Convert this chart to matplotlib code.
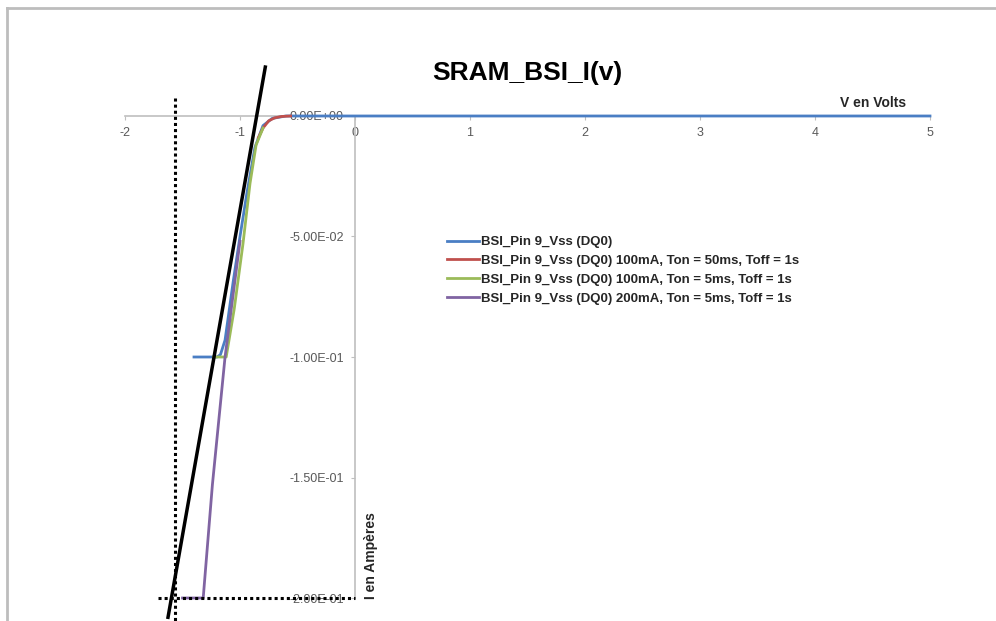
import numpy as np
import matplotlib
matplotlib.use("Agg")
import matplotlib.pyplot as plt
from matplotlib.lines import Line2D
from matplotlib.ticker import FormatStrFormatter

plt.rcParams['font.family'] = ['Liberation Sans', 'DejaVu Sans']
plt.rcParams['axes.unicode_minus'] = False

# --- data (V in volts, I in amperes) ---
blue_v = [5.0, 0.0, -0.6, -0.72, -0.8, -0.87, -0.94, -1.0, -1.06, -1.13, -1.17, -1.20, -1.40]
blue_i = [0.0, 0.0, 0.0, -0.001, -0.004, -0.013, -0.032, -0.050, -0.069, -0.093, -0.099, -0.100, -0.100]

red_v = [-0.56, -0.64, -0.70, -0.75, -0.80, -0.84]
red_i = [0.0, -0.0002, -0.0008, -0.002, -0.005, -0.009]

green_v = [-0.80, -0.86, -0.913, -0.974, -1.05, -1.12, -1.23]
green_i = [-0.005, -0.012, -0.028, -0.053, -0.080, -0.100, -0.100]

purple_v = [-1.0, -1.13, -1.24, -1.32, -1.50]
purple_i = [-0.052, -0.100, -0.153, -0.200, -0.200]

trend_v = [-0.78, -1.626]
trend_i = [0.0203, -0.208]

vdot_v = [-1.565, -1.565]
vdot_i = [0.0075, -0.215]
hdot_v = [-1.71, 0.0]
hdot_i = [-0.200, -0.200]

labels = ["BSI_Pin 9_Vss (DQ0)",
          "BSI_Pin 9_Vss (DQ0) 100mA, Ton = 50ms, Toff = 1s",
          "BSI_Pin 9_Vss (DQ0) 100mA, Ton = 5ms, Toff = 1s",
          "BSI_Pin 9_Vss (DQ0) 200mA, Ton = 5ms, Toff = 1s"]
colors = ["#4A7EC4", "#C0504D", "#9BBB59", "#8064A2"]

xticks = [-2, -1, 0, 1, 2, 3, 4, 5]
yticks = [-0.20, -0.15, -0.10, -0.05, 0.0]

fig = plt.figure(figsize=(9.96, 6.21), dpi=100)
ax = fig.add_axes([0, 0, 1, 1])
ax.set_xlim(-3.087, 5.574)
ax.set_ylim(-0.20954, 0.04813)
ax.patch.set_alpha(0)

# axes crossing at the origin, Excel style
for s in ['top', 'right']:
    ax.spines[s].set_visible(False)
ax.spines['left'].set_position(('data', 0))
ax.spines['bottom'].set_position(('data', 0))
ax.spines['left'].set_bounds(-0.2, 0)
ax.spines['bottom'].set_bounds(-2, 5)
for s in ['left', 'bottom']:
    ax.spines[s].set_color('#BFBFBF')
    ax.spines[s].set_linewidth(1.2)
ax.set_xticks(xticks)
ax.set_yticks(yticks)
ax.yaxis.set_major_formatter(FormatStrFormatter('%.2E'))
ax.tick_params(axis='both', colors='#BFBFBF', labelcolor='#595959',
               labelsize=9, length=3)
ax.tick_params(axis='x', pad=5)
ax.tick_params(axis='y', pad=5)

# series
ax.plot(blue_v, blue_i, color=colors[0], lw=2.0, label=labels[0], zorder=3)
ax.plot(red_v, red_i, color=colors[1], lw=2.0, label=labels[1], zorder=3)
ax.plot(green_v, green_i, color=colors[2], lw=2.0, label=labels[2], zorder=3)
ax.plot(purple_v, purple_i, color=colors[3], lw=2.0, label=labels[3], zorder=3)

# hand-drawn construction lines
ax.plot(trend_v, trend_i, color='black', lw=2.5, zorder=4, clip_on=False)
ax.plot(vdot_v, vdot_i, color='black', lw=2.2, ls=(0, (1, 1)), zorder=4)
ax.plot(hdot_v, hdot_i, color='black', lw=2.2, ls=(0, (1, 1)), zorder=4)

leg = ax.legend(loc='upper left', bbox_to_anchor=(447 / 996, 1 - 236 / 621),
                frameon=False, handlelength=2.4,
                handletextpad=0.2, labelspacing=0.5, borderpad=0,
                borderaxespad=0, prop={'weight': 'bold', 'size': 9.5})
for t in leg.get_texts():
    t.set_color('#262626')

fig.text(527 / 996, 1 - 73 / 621, "SRAM_BSI_I(v)", ha='center', va='center',
         fontsize=19, fontweight='bold')
fig.text(873 / 996, 1 - 103 / 621, "V en Volts", ha='center', va='center',
         fontsize=10, fontweight='bold', color='#262626')
fig.text(371 / 996, 1 - 556 / 621, "I en Ampères", ha='center', va='center',
         fontsize=10, fontweight='bold', rotation=90, color='#262626')

# frame edges of the screenshot
fig.add_artist(Line2D([7 / 996, 1], [1 - 8 / 621, 1 - 8 / 621],
                      transform=fig.transFigure, color='#BDBDBD', lw=2))
fig.add_artist(Line2D([7 / 996, 7 / 996], [0, 1 - 8 / 621],
                      transform=fig.transFigure, color='#BDBDBD', lw=2))

fig.savefig("out.png", dpi=100, facecolor='white')
